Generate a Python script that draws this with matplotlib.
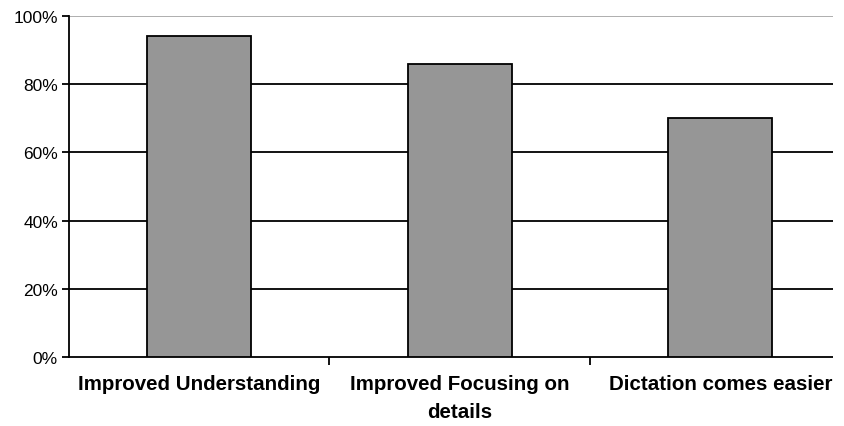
import matplotlib
matplotlib.use("Agg")
import matplotlib.pyplot as plt
from matplotlib.ticker import FixedLocator, PercentFormatter
from matplotlib.patches import Rectangle

categories = ["Improved Understanding", "Improved Focusing on\ndetails", "Dictation comes easier"]
values = [94, 86, 70]
yticks = [0, 20, 40, 60, 80, 100]

W, H = 845, 427
fig = plt.figure(figsize=(W / 100, H / 100), dpi=100)
left, right, top, bottom = 69, 833, 17, 358
ax = fig.add_axes([left / W, 1 - bottom / H, (right - left) / W, (bottom - top) / H])

cat_w = 260.5
x = list(range(len(categories)))
ax.bar(x, values, width=104 / cat_w, color="#969696", edgecolor="black", linewidth=1.3, zorder=3)

ax.set_xlim(-0.5, -0.5 + (right - left) / cat_w)
ax.set_ylim(0, 100)

for y in yticks[1:]:
    ax.axhline(y, color="#a8a8a8" if y == 100 else "black", linewidth=1.3, zorder=1)

ax.yaxis.set_major_locator(FixedLocator(yticks))
ax.yaxis.set_major_formatter(PercentFormatter(decimals=0))
ax.tick_params(axis="y", length=5, width=1.3, pad=3, labelsize=12.5)
for lab in ax.get_yticklabels():
    lab.set_fontfamily("Liberation Sans")

ax.set_xticks(x)
ax.set_xticklabels(categories, fontfamily="Liberation Sans", fontweight="bold", fontsize=14.8,
                   linespacing=1.6)
ax.tick_params(axis="x", length=0, pad=12)
ax.set_xticks([0.5, 1.5], minor=True)
ax.tick_params(axis="x", which="minor", length=6, width=1.3, direction="out")

for s in ["top", "right"]:
    ax.spines[s].set_visible(False)
for s in ["left", "bottom"]:
    ax.spines[s].set_linewidth(1.3)
ax.set_axisbelow(False)

# blank strip along the right edge of the canvas
fig.add_artist(Rectangle((right / W, 0), 1, 1, transform=fig.transFigure,
                         facecolor="white", edgecolor="none", zorder=10))

fig.savefig("out.png", dpi=100, facecolor="white")
